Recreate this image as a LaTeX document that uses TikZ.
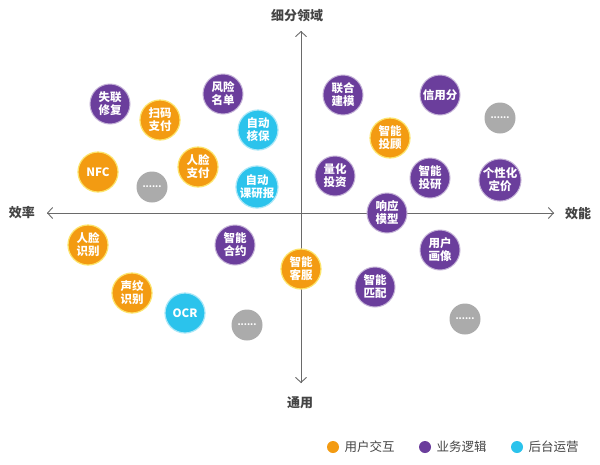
\documentclass[tikz,border=0pt]{standalone}
\usepackage{fontspec}
\setmainfont{Noto Sans CJK SC}
\usetikzlibrary{arrows.meta}
\definecolor{corange}{HTML}{F39B12}
\definecolor{cpurple}{HTML}{6B3E9C}
\definecolor{ccyan}{HTML}{2BC3EC}
\definecolor{cgray}{HTML}{ABABAB}
\definecolor{axisgray}{HTML}{6A6A6A}
\definecolor{labgray}{HTML}{444444}
\begin{document}
\begin{tikzpicture}[x=1pt,y=-1pt,
  bub/.style={circle, minimum size=40pt, inner sep=0pt, text=white,
    font=\fontsize{11.5}{13}\selectfont\bfseries, align=center},
  ob/.style={bub, fill=corange, draw=corange!45!yellow!60!white, line width=1.2pt},
  pb/.style={bub, fill=cpurple, draw=cpurple!40!white, line width=1pt},
  cb/.style={bub, fill=ccyan, draw=ccyan!40!white, line width=1.2pt},
  gb/.style={circle, minimum size=31pt, inner sep=0pt, fill=cgray, text=white,
    font=\fontsize{9}{9}\selectfont\bfseries},
  axl/.style={text=labgray, font=\fontsize{13}{14}\selectfont\bfseries},
  axisline/.style={draw=axisgray, line width=0.9pt, -{Straight Barb[length=5pt,width=11pt]}},
  legdot/.style={circle, minimum size=12pt, inner sep=0pt},
  legtxt/.style={text=labgray, font=\fontsize{12.5}{13}\selectfont, anchor=west}
]
\useasboundingbox[fill=white] (0,0) rectangle (600,464);

% axes
\coordinate (c) at (301,213);
\coordinate (L) at (47,213);
\coordinate (R) at (554,213);
\coordinate (T) at (301,31);
\coordinate (B) at (301,383);
\draw[axisline] (R) -- (L);
\draw[axisline] (L) -- (R);
\draw[axisline] (B) -- (T);
\draw[axisline] (T) -- (B);
\node[axl] (top) at (297,16) {细分领域};
\node[axl] (bot) at (300,403) {通用};
\node[axl] (lft) at (22,213) {效率};
\node[axl] (rgt) at (578,214) {效能};

% upper left
\node[pb] (n1) at (110,104) {失联\\修复};
\node[ob] (n2) at (160,120) {扫码\\支付};
\node[pb] (n3) at (223,94) {风险\\名单};
\node[cb] (n4) at (258,130) {自动\\核保};
\node[ob] (n5) at (98,172) {NFC};
\node[ob] (n6) at (198,167) {人脸\\支付};
\node[gb] (g1) at (152,187) {......};
\node[cb] (n7) at (257,187) {自动\\课研报};

% upper right
\node[pb] (m1) at (343,95) {联合\\建模};
\node[pb] (m2) at (440,95) {信用分};
\node[gb] (g2) at (500,118) {......};
\node[ob] (m3) at (390,138) {智能\\投顾};
\node[pb] (m4) at (335,176) {量化\\投资};
\node[pb] (m5) at (430,178) {智能\\投研};
\node[pb] (m6) at (500,180) {个性化\\定价};
\node[pb] (m7) at (387,213) {响应\\模型};

% lower left
\node[ob] (k1) at (88,245) {人脸\\识别};
\node[pb] (k2) at (235,245) {智能\\合约};
\node[ob] (k3) at (132,293) {声纹\\识别};
\node[cb] (k4) at (185,313) {OCR};
\node[gb] (g3) at (247,325) {......};

% lower right
\node[ob] (j1) at (301,269) {智能\\客服};
\node[pb] (j2) at (440,250) {用户\\画像};
\node[pb] (j3) at (375,287) {智能\\匹配};
\node[gb] (g4) at (465,319) {......};

% legend
\node[legdot, fill=corange] (d1) at (333,447) {};
\node[legtxt] (t1) at (341,447) {用户交互};
\node[legdot, fill=cpurple] (d2) at (425,447) {};
\node[legtxt] (t2) at (433,447) {业务逻辑};
\node[legdot, fill=ccyan] (d3) at (517,447) {};
\node[legtxt] (t3) at (525,447) {后台运营};
\end{tikzpicture}
\end{document}
